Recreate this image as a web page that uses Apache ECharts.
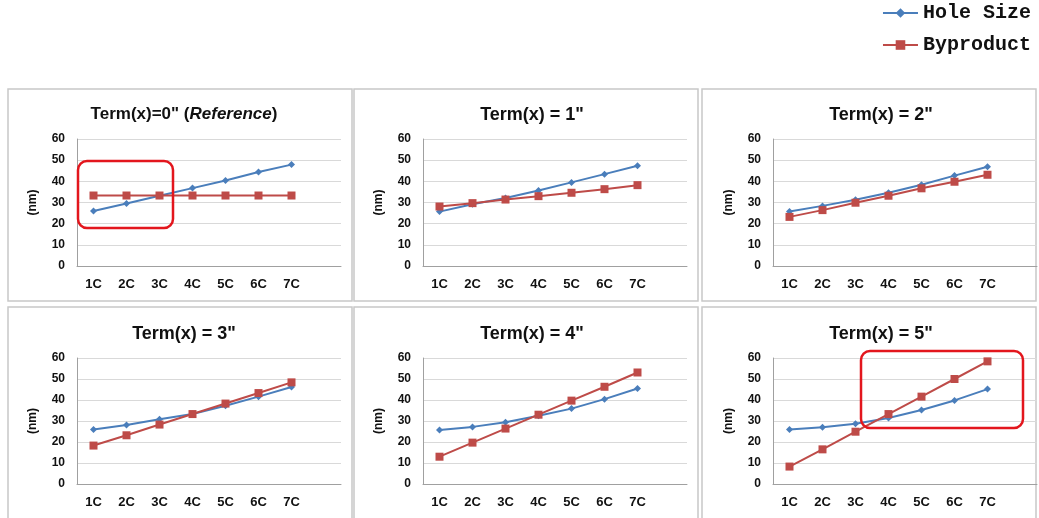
<!DOCTYPE html>
<html>
<head>
<meta charset="utf-8">
<script src="https://cdn.jsdelivr.net/npm/echarts@6/dist/echarts.min.js"></script>
<style>
    html, body { margin: 0; padding: 0; background: #fff; }
    #main { width: 1039px; height: 518px; }
</style>
</head>
<body>
<div id="main"></div>
<script>
// 数据
const cycles = ['1C', '2C', '3C', '4C', '5C', '6C', '7C'];
const yTicks = [0, 10, 20, 30, 40, 50, 60];

const holeT0 = [26.0, 29.5, 33.2, 36.8, 40.4, 44.4, 47.9];
const byprodT0 = [33.3, 33.3, 33.3, 33.3, 33.3, 33.3, 33.3];
const holeT1 = [25.7, 29.2, 32.1, 35.7, 39.5, 43.4, 47.4];
const byprodT1 = [28.1, 29.7, 31.4, 33.0, 34.6, 36.3, 38.2];
const holeT2 = [25.7, 28.4, 31.3, 34.6, 38.4, 42.7, 46.9];
const byprodT2 = [23.2, 26.4, 29.9, 33.2, 36.7, 39.8, 43.1];
const holeT3 = [26.0, 28.1, 30.8, 33.3, 37.3, 41.6, 46.2];
const byprodT3 = [18.3, 23.2, 28.3, 33.3, 38.3, 43.3, 48.4];
const holeT4 = [25.7, 27.2, 29.4, 32.5, 35.9, 40.4, 45.5];
const byprodT4 = [13.0, 19.7, 26.4, 33.0, 39.7, 46.3, 53.1];
const holeT5 = [26.0, 27.0, 28.7, 31.4, 35.2, 39.8, 45.2];
const byprodT5 = [8.3, 16.5, 24.9, 33.3, 41.6, 50.0, 58.4];

const titles = ['Term(x)=0" (Reference)', 'Term(x) = 1"', 'Term(x) = 2"', 'Term(x) = 3"', 'Term(x) = 4"', 'Term(x) = 5"'];
const holeData = [holeT0, holeT1, holeT2, holeT3, holeT4, holeT5];
const byprodData = [byprodT0, byprodT1, byprodT2, byprodT3, byprodT4, byprodT5];

// 布局
const panels = [
    { x: 8, y: 89, w: 344, h: 212 },
    { x: 354, y: 89, w: 344, h: 212 },
    { x: 702, y: 89, w: 334, h: 212 },
    { x: 8, y: 307, w: 344, h: 215 },
    { x: 354, y: 307, w: 344, h: 215 },
    { x: 702, y: 307, w: 334, h: 215 }
];
const gridLeft = [77, 423, 773];
const gridTop = [139, 358];
const gridH = [127, 126];
const titleX = [179, 527, 876];
const titleTop = [101, 320];

const BLUE = '#4a7ebb';
const RED = '#be4b48';
const FONT = '"Liberation Sans", Arial, sans-serif';

let grid = [], xAxis = [], yAxis = [], series = [], title = [], graphic = [];

for (let i = 0; i < 6; i++) {
    const col = i % 3, row = Math.floor(i / 3);
    grid.push({ left: gridLeft[col], top: gridTop[row], width: 264, height: gridH[row] });
    xAxis.push({
        type: 'category',
        gridIndex: i,
        data: cycles.concat(['']),
        axisLine: { lineStyle: { color: '#a0a0a0' } },
        axisTick: { show: false },
        axisLabel: { interval: 0, margin: 12, color: '#111', fontWeight: 'bold', fontSize: 13, fontFamily: FONT }
    });
    yAxis.push({
        type: 'value',
        gridIndex: i,
        min: yTicks[0],
        max: yTicks[yTicks.length - 1],
        interval: 10,
        name: '(nm)',
        nameLocation: 'middle',
        nameGap: 38,
        nameTextStyle: { color: '#111', fontWeight: 'bold', fontSize: 12, fontFamily: FONT },
        axisLine: { show: true, lineStyle: { color: '#a0a0a0' } },
        axisTick: { show: false },
        axisLabel: { margin: 12, color: '#111', fontWeight: 'bold', fontSize: 12, fontFamily: FONT },
        splitLine: { lineStyle: { color: '#d9d9d9' } }
    });
    series.push({
        name: 'Hole Size',
        type: 'line',
        xAxisIndex: i,
        yAxisIndex: i,
        data: holeData[i],
        symbol: 'diamond',
        symbolSize: 7,
        color: BLUE,
        lineStyle: { width: 2, color: BLUE },
        itemStyle: { color: BLUE },
        animation: false
    });
    series.push({
        name: 'Byproduct',
        type: 'line',
        xAxisIndex: i,
        yAxisIndex: i,
        data: byprodData[i],
        symbol: 'rect',
        symbolSize: 8,
        color: RED,
        lineStyle: { width: 2, color: RED },
        itemStyle: { color: RED },
        animation: false
    });
    let t = {
        text: titles[i],
        left: titleX[col],
        top: titleTop[row],
        textAlign: 'center',
        textStyle: { color: '#111', fontWeight: 'bold', fontSize: 18, fontFamily: FONT }
    };
    if (i === 0) {
        t.text = '{n|Term(x)=0" (}{i|Reference}{n|)}';
        t.textStyle.rich = {
            n: { color: '#111', fontWeight: 'bold', fontSize: 17, fontFamily: FONT },
            i: { color: '#111', fontWeight: 'bold', fontStyle: 'italic', fontSize: 17, fontFamily: FONT }
        };
    }
    title.push(t);
    graphic.push({
        type: 'rect',
        silent: true,
        z: -1,
        shape: { x: panels[i].x, y: panels[i].y, width: panels[i].w, height: panels[i].h },
        style: { fill: 'none', stroke: '#c8c8c8', lineWidth: 1.5 }
    });
}

// 红色标注框
graphic.push({
    type: 'rect', silent: true, z: 100,
    shape: { x: 78, y: 161, width: 95, height: 67, r: 9 },
    style: { fill: 'none', stroke: '#e3161d', lineWidth: 2.5 }
});
graphic.push({
    type: 'rect', silent: true, z: 100,
    shape: { x: 861, y: 351, width: 162, height: 77, r: 9 },
    style: { fill: 'none', stroke: '#e3161d', lineWidth: 2.5 }
});

var myChart = echarts.init(document.getElementById('main'));
myChart.setOption({
    animation: false,
    title: title,
    legend: {
        data: ['Hole Size', 'Byproduct'],
        orient: 'vertical',
        right: 3,
        top: -2,
        itemWidth: 35,
        itemHeight: 12,
        itemGap: 12,
        textStyle: { color: '#111', fontWeight: 'bold', fontSize: 20, fontFamily: '"Liberation Mono", "DejaVu Sans Mono", monospace' }
    },
    grid: grid,
    xAxis: xAxis,
    yAxis: yAxis,
    series: series,
    graphic: graphic
});
</script>
</body>
</html>
